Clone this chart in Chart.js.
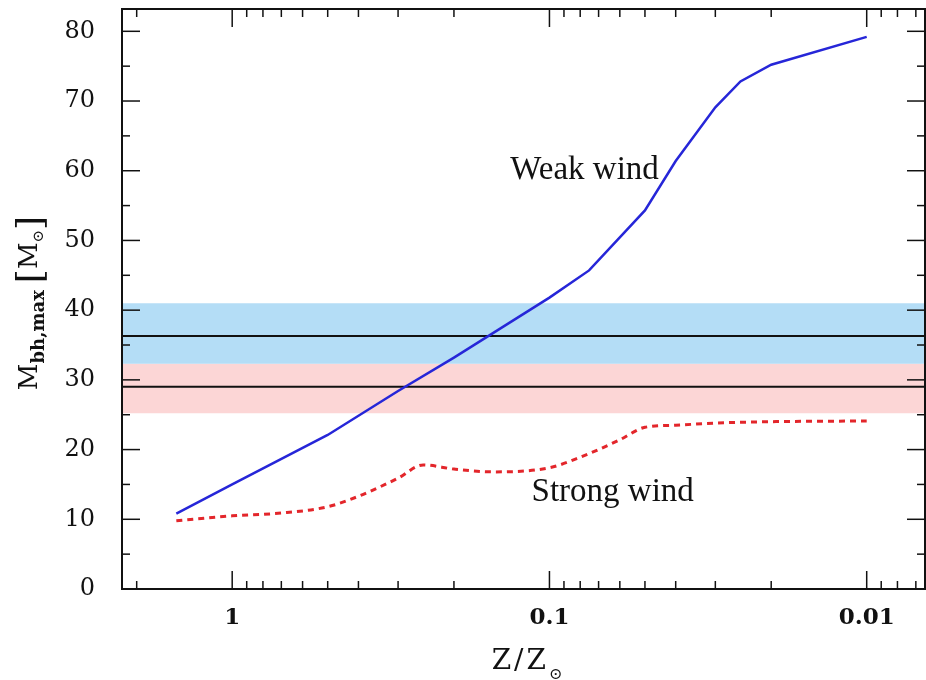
<!DOCTYPE html>
<html><head><meta charset="utf-8">
<script src="https://cdn.jsdelivr.net/npm/chart.js@4/dist/chart.umd.min.js"></script>
<style>html,body{margin:0;padding:0;background:#fff}canvas{display:block}</style>
</head><body>
<canvas id="c" width="926" height="680"></canvas>
<script>
// ---- data ----
const weakZ   = [1.5, 1, 0.5, 0.3, 0.2, 0.1, 0.075, 0.05, 0.04, 0.03, 0.025, 0.02, 0.01];
const weakM   = [10.8, 15.0, 22.1, 28.4, 33.2, 41.8, 45.7, 54.3, 61.4, 69.1, 72.8, 75.2, 79.2];
const strongZ = [1.5, 1, 0.7, 0.5, 0.4, 0.3, 0.25, 0.2, 0.15, 0.1, 0.08, 0.06, 0.05, 0.04, 0.03, 0.02, 0.01];
const strongM = [9.8, 10.5, 10.9, 11.8, 13.3, 15.9, 17.8, 17.2, 16.8, 17.4, 18.9, 21.4, 23.2, 23.5, 23.8, 24.0, 24.1];
const obsMass  = [36.3, 29.0];
const blueBand = [32.3, 41.0];
const pinkBand = [25.2, 32.3];
const xRange = [0.00655, 2.225];
const yRange = [0, 83.2];
const xMajor = [1, 0.1, 0.01];
const xMinor = [2, 0.9, 0.8, 0.7, 0.6, 0.5, 0.4, 0.3, 0.2,
                0.09, 0.08, 0.07, 0.06, 0.05, 0.04, 0.03, 0.02,
                0.009, 0.008, 0.007];
const yMajor = [0, 10, 20, 30, 40, 50, 60, 70, 80];
const yMinor = [5, 15, 25, 35, 45, 55, 65, 75];
const notes = [
  {text: 'Weak wind',   z: 0.0775, m: 60.1},
  {text: 'Strong wind', z: 0.0632, m: 13.9}
];

const pts = (xs, ys) => xs.map((v, i) => ({x: v, y: ys[i]}));
const flat = v => [{x: xRange[0], y: v}, {x: xRange[1], y: v}];

const frame = {
  id: 'frame',
  afterDatasetsDraw(chart) {
    const {ctx, chartArea: a, scales: {x, y}} = chart;
    ctx.save();
    ctx.strokeStyle = '#111';
    ctx.lineWidth = 1.5;
    const t = (px, py, dx, dy) => { ctx.beginPath(); ctx.moveTo(px, py); ctx.lineTo(px + dx, py + dy); ctx.stroke(); };
    xMajor.forEach(v => { const p = x.getPixelForValue(v); t(p, a.bottom, 0, -18); t(p, a.top, 0, 18); });
    xMinor.forEach(v => { const p = x.getPixelForValue(v); t(p, a.bottom, 0, -8); t(p, a.top, 0, 8); });
    yMajor.forEach(v => { const p = y.getPixelForValue(v); t(a.left, p, 18, 0); t(a.right, p, -18, 0); });
    yMinor.forEach(v => { const p = y.getPixelForValue(v); t(a.left, p, 8, 0); t(a.right, p, -8, 0); });
    ctx.lineWidth = 2;
    ctx.strokeRect(a.left, a.top, a.right - a.left, a.bottom - a.top);
    ctx.restore();
  },
  afterDraw(chart) {
    const {ctx, scales: {x, y}} = chart;
    ctx.save();
    ctx.fillStyle = '#111';
    // annotations
    ctx.font = '33px "Liberation Serif"';
    ctx.textAlign = 'center';
    ctx.textBaseline = 'middle';
    notes.forEach(n => ctx.fillText(n.text, x.getPixelForValue(n.z), y.getPixelForValue(n.m)));

    // x title: Z/Z_sun
    ctx.textAlign = 'left';
    ctx.textBaseline = 'alphabetic';
    const f1 = '28px "DejaVu Serif"', f2 = '16px "DejaVu Serif"';
    ctx.font = f1;
    ctx.letterSpacing = '3px';
    const w1 = ctx.measureText('Z/Z').width;
    ctx.letterSpacing = '0px';
    ctx.font = f2;
    const w2 = ctx.measureText('\u2299').width;
    let sx = 527 - (w1 + w2) / 2;
    ctx.font = f1; ctx.letterSpacing = '3px';
    ctx.fillText('Z/Z', sx, 669);
    ctx.letterSpacing = '0px';
    ctx.font = f2;
    ctx.fillText('\u2299', sx + w1, 679);

    // y title: M_bh,max [M_sun]
    ctx.translate(37, 303);
    ctx.rotate(-Math.PI / 2);
    const parts = [
      {s: 'M', f: '26px "DejaVu Serif"', dy: 0},
      {s: 'bh,max', f: 'bold 18px "DejaVu Serif"', dy: 7},
      {s: ' ', f: '22px "DejaVu Serif"', dy: 0},
      {s: '[', f: '36px "DejaVu Serif"', dy: 5},
      {s: 'M', f: '26px "DejaVu Serif"', dy: 0},
      {s: '\u2299', f: '15px "DejaVu Serif"', dy: 6},
      {s: ']', f: '36px "DejaVu Serif"', dy: 5}
    ];
    let total = 0;
    parts.forEach(p => { ctx.font = p.f; p.w = ctx.measureText(p.s).width; total += p.w; });
    let cx = -total / 2;
    parts.forEach(p => { ctx.font = p.f; ctx.fillText(p.s, cx, p.dy); cx += p.w; });
    ctx.restore();
  }
};

new Chart(document.getElementById('c'), {
  type: 'line',
  data: {
    datasets: [
      {label: 'Weak wind', data: pts(weakZ, weakM), borderColor: '#2626d8', borderWidth: 2.5,
       pointRadius: 0, tension: 0, fill: false, order: 0},
      {label: 'Strong wind', data: pts(strongZ, strongM), borderColor: '#e3262b', borderWidth: 3,
       borderDash: [6, 5], pointRadius: 0, cubicInterpolationMode: 'monotone', fill: false, order: 1},
      {label: 'obs1', data: flat(obsMass[0]), borderColor: '#111', borderWidth: 2, pointRadius: 0, fill: false, order: 2},
      {label: 'obs2', data: flat(obsMass[1]), borderColor: '#111', borderWidth: 2, pointRadius: 0, fill: false, order: 2},
      {label: 'blue band', data: flat(blueBand[1]), borderColor: 'rgba(0,0,0,0)', borderWidth: 0,
       backgroundColor: 'rgb(180,221,246)', pointRadius: 0, fill: {value: blueBand[0]}, order: 3},
      {label: 'pink band', data: flat(pinkBand[1]), borderColor: 'rgba(0,0,0,0)', borderWidth: 0,
       backgroundColor: 'rgb(252,214,214)', pointRadius: 0, fill: {value: pinkBand[0]}, order: 4}
    ]
  },
  options: {
    responsive: false,
    animation: false,
    devicePixelRatio: 1,
    layout: {padding: {top: 9, right: 1, left: 0, bottom: 0}},
    plugins: {legend: {display: false}, tooltip: {enabled: false}},
    scales: {
      x: {
        type: 'logarithmic', reverse: true, min: xRange[0], max: xRange[1],
        grid: {display: false}, border: {display: false},
        afterBuildTicks: s => { s.ticks = xMajor.map(v => ({value: v})); },
        afterFit: s => { s.height = 91; s.paddingLeft = 0; s.paddingRight = 0; },
        ticks: {autoSkip: false, maxRotation: 0, padding: 7, color: '#111',
                font: {family: 'DejaVu Serif', size: 23, weight: 'bold'},
                callback: v => String(v)}
      },
      y: {
        type: 'linear', min: yRange[0], max: yRange[1],
        grid: {display: false}, border: {display: false},
        afterBuildTicks: s => { s.ticks = yMajor.map(v => ({value: v})); },
        afterFit: s => { s.width = 122; s.paddingTop = 0; s.paddingBottom = 0; },
        ticks: {padding: 19, color: '#111', font: {family: 'DejaVu Serif', size: 24},
                callback: v => String(v)}
      }
    }
  },
  plugins: [frame]
});
</script>
</body></html>
